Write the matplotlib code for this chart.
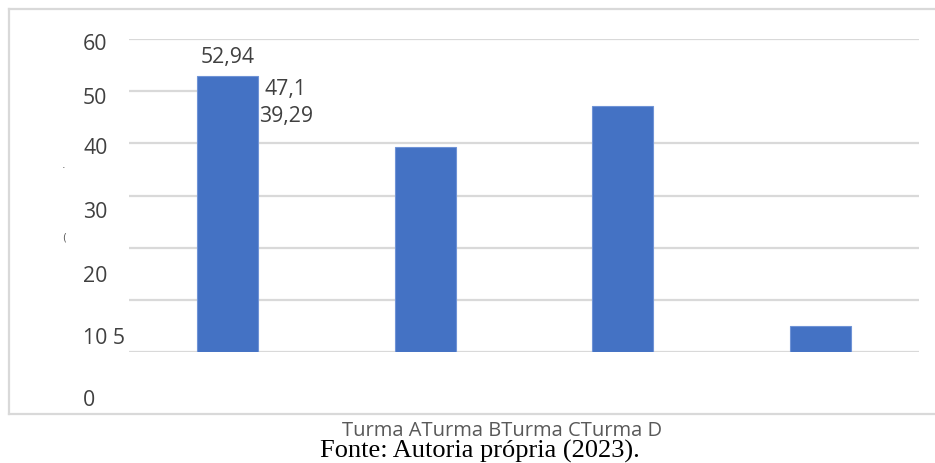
import matplotlib.pyplot as plt
from matplotlib.lines import Line2D

turmas = ["Turma A", "Turma B", "Turma C", "Turma D"]
valores = [52.94, 39.29, 47.1, 5]
grade = [0, 10, 20, 30, 40, 50, 60]
rotulos_y = ["60", "50", "40", "30", "20", "10", "0"]

W, H = 935, 464
fig = plt.figure(figsize=(W / 100, H / 100), dpi=100)
ax = fig.add_axes([129 / W, 1 - 353 / H, (919 - 129) / W, (353 - 40) / H])

x = list(range(len(turmas)))
bars = ax.bar(x, valores, width=0.31, color="#4472C4", edgecolor="#6f93d6",
              linewidth=0.8, zorder=3)
ax.set_xlim(-0.5, len(turmas) - 0.5)
ax.set_ylim(0, 60)
ax.axis("off")

# gridlines; the 50 line stops at the first bar
left_a = bars[0].get_x()
for g in grade:
    x1 = left_a if g == 50 else len(turmas) - 0.5
    ax.hlines(g, -0.5, x1, color="#d9d9d9", linewidth=1.6, zorder=1)

fmt = lambda v: f"{v:g}".replace(".", ",")
cor_txt = "#404040"
fs = 15.3

# value labels (all crowded near the first bar)
ax.text(0, valores[0] + 3.7, fmt(valores[0]), ha="center", va="center",
        fontsize=fs, color=cor_txt, family="Open Sans")
ax.text(0.184, 50.6, fmt(valores[2]), ha="left", va="center",
        fontsize=fs, color=cor_txt, family="Open Sans")
ax.text(0.158, 45.4, fmt(valores[1]), ha="left", va="center",
        fontsize=fs, color=cor_txt, family="Open Sans")

# y tick labels, shifted downward
ypix = [44, 98, 149, 213, 277, 339, 401]
for lab, yp in zip(rotulos_y, ypix):
    txt = lab + " " + fmt(valores[3]) if lab == "10" else lab
    fig.text(83 / W, 1 - yp / H, txt, ha="left", va="center",
             fontsize=fs, color=cor_txt, family="Open Sans")

# remnants of the axis title
fig.text(64 / W, 1 - 165 / H, ".", ha="center", va="center", fontsize=8, color="#595959")
fig.text(64 / W, 1 - 238 / H, "(", ha="center", va="center", fontsize=7, color="#595959")

# category labels run together
fig.text(502 / W, 1 - 431 / H, "".join(turmas), ha="center", va="center",
         fontsize=14.5, color="#595959", family="Open Sans")

fig.text(480 / W, 1 - 451 / H, "Fonte: Autoria própria (2023).", ha="center", va="center",
         fontsize=19, color="black", family="Liberation Serif")

# chart frame (right side cut off)
frame = "#d9d9d9"
fig.add_artist(Line2D([9 / W, 9 / W], [1 - 10 / H, 1 - 415 / H], color=frame, lw=1.6))
fig.add_artist(Line2D([9 / W, 1], [1 - 10 / H, 1 - 10 / H], color=frame, lw=1.6))
fig.add_artist(Line2D([9 / W, 1], [1 - 415 / H, 1 - 415 / H], color=frame, lw=1.6))

fig.savefig("out.png", dpi=100)
